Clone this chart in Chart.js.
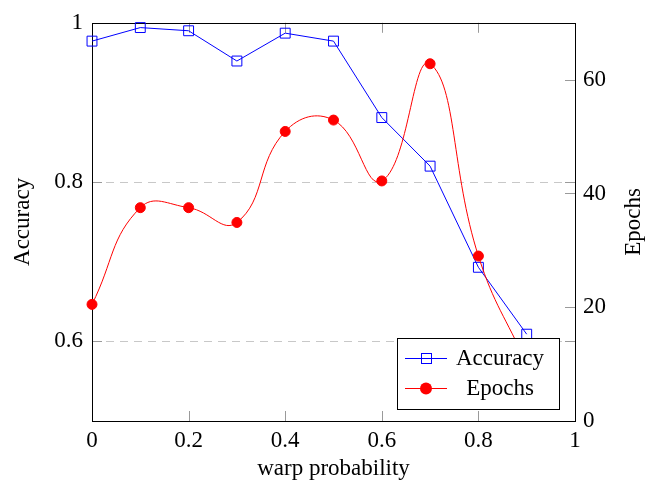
<!DOCTYPE html>
<html><head><meta charset="utf-8">
<script src="https://cdn.jsdelivr.net/npm/chart.js@4/dist/chart.umd.min.js"></script>
<style>html,body{margin:0;padding:0;background:#fff}#wrap{width:648px;height:484px}</style>
</head><body><div id="wrap"><canvas id="c" width="648" height="484"></canvas></div>
<script>
const warpProbability = [0, 0.1, 0.2, 0.3, 0.4, 0.5, 0.6, 0.7, 0.8, 0.9];
const accuracy = [0.977, 0.994, 0.990, 0.952, 0.987, 0.977, 0.881, 0.820, 0.693, 0.609];
const epochs = [20.5, 37.5, 37.5, 34.9, 50.9, 52.9, 42.2, 62.8, 29.0, 10.0];
const xTicks = [0, 0.2, 0.4, 0.6, 0.8, 1];
const accuracyTicks = [0.6, 0.8, 1];
const epochTicks = [0, 20, 40, 60];
const seriesNames = ['Accuracy', 'Epochs'];
const rightTitle = 'Epochs';

const FONT = 'Liberation Serif';
const fnt = {family: FONT, size: 23};

const framePlugin = {
  id: 'frame',
  beforeDatasetsDraw(chart) {
    const {ctx, chartArea: a, scales: {x, y, y1}} = chart;
    const L = 10;
    ctx.save();
    ctx.strokeStyle = '#9a9a9a';
    ctx.lineWidth = 1;
    ctx.beginPath();
    xTicks.forEach(v => {
      if (v <= 0 || v >= 1) return;
      const px = Math.round(x.getPixelForValue(v)) + 0.5;
      ctx.moveTo(px, a.bottom); ctx.lineTo(px, a.bottom - L);
      ctx.moveTo(px, a.top); ctx.lineTo(px, a.top + L);
    });
    accuracyTicks.forEach(v => {
      if (v >= 1) return;
      const py = Math.round(y.getPixelForValue(v)) + 0.5;
      ctx.moveTo(a.left, py); ctx.lineTo(a.left + L, py);
      ctx.moveTo(a.right, py); ctx.lineTo(a.right - L, py);
    });
    epochTicks.forEach(v => {
      if (v <= 0) return;
      const py = Math.round(y1.getPixelForValue(v)) + 0.5;
      ctx.moveTo(a.right, py); ctx.lineTo(a.right - L, py);
    });
    ctx.stroke();
    ctx.strokeStyle = '#000';
    ctx.strokeRect(Math.round(a.left) + 0.5, Math.round(a.top) + 0.5,
                   Math.round(a.right - a.left), Math.round(a.bottom - a.top));
    // right axis title, reading bottom-to-top
    ctx.translate(y1.right - 14, (a.top + a.bottom) / 2);
    ctx.rotate(-Math.PI / 2);
    ctx.fillStyle = '#000';
    ctx.font = '23px "' + FONT + '"';
    ctx.textAlign = 'center';
    ctx.textBaseline = 'middle';
    ctx.fillText(rightTitle, 0, 0);
    ctx.restore();
  },
  afterDraw(chart) {
    const {ctx, chartArea: a} = chart;
    const bx = a.right - 178, by = a.bottom - 83, bw = 162, bh = 71;
    ctx.save();
    ctx.fillStyle = '#fff';
    ctx.fillRect(bx, by, bw, bh);
    ctx.strokeStyle = '#000';
    ctx.lineWidth = 1;
    ctx.strokeRect(Math.round(bx) + 0.5, Math.round(by) + 0.5, bw, bh);
    const rows = [by + 20, by + 50];
    const colors = ['#0000ff', '#ff0000'];
    rows.forEach((ry, i) => {
      ctx.strokeStyle = colors[i];
      ctx.lineWidth = 1;
      ctx.beginPath();
      ctx.moveTo(bx + 8, ry + 0.5); ctx.lineTo(bx + 50, ry + 0.5);
      ctx.stroke();
      const mx = bx + 29;
      if (i === 0) {
        ctx.strokeRect(mx - 5 + 0.5, ry - 5 + 0.5, 10, 10);
      } else {
        ctx.fillStyle = colors[i];
        ctx.beginPath(); ctx.arc(mx, ry + 0.5, 6, 0, Math.PI * 2); ctx.fill();
      }
      ctx.fillStyle = '#000';
      ctx.font = '23px "' + FONT + '"';
      ctx.textAlign = 'center';
      ctx.textBaseline = 'middle';
      ctx.fillText(seriesNames[i], bx + 103, ry + 1);
    });
    ctx.restore();
  }
};

new Chart(document.getElementById('c'), {
  type: 'line',
  data: {
    datasets: [
      {
        label: seriesNames[1],
        data: warpProbability.map((w, i) => ({x: w, y: epochs[i]})),
        yAxisID: 'y1',
        borderColor: '#ff0000', backgroundColor: '#ff0000',
        borderWidth: 1, tension: 0.45,
        pointStyle: 'circle', pointRadius: 5, pointBorderWidth: 1,
        pointBackgroundColor: '#ff0000', pointBorderColor: '#ff0000',
        clip: false, order: 0
      },
      {
        label: seriesNames[0],
        data: warpProbability.map((w, i) => ({x: w, y: accuracy[i]})),
        yAxisID: 'y',
        borderColor: '#0000ff', backgroundColor: 'rgba(0,0,0,0)',
        borderWidth: 1, tension: 0,
        pointStyle: 'rect', pointRadius: 7, pointBorderWidth: 1,
        pointBackgroundColor: 'rgba(0,0,0,0)', pointBorderColor: '#0000ff',
        clip: false, order: 1
      }
    ]
  },
  options: {
    responsive: false,
    animation: false,
    layout: {padding: {top: 20, left: 0, right: 0, bottom: 0}},
    plugins: {legend: {display: false}, tooltip: {enabled: false}},
    scales: {
      x: {
        type: 'linear', min: 0, max: 1,
        afterBuildTicks: s => { s.ticks = xTicks.map(v => ({value: v})); },
        afterFit: s => { s.height = 63; },
        grid: {display: false, drawTicks: false},
        border: {display: false},
        ticks: {font: fnt, color: '#000', padding: 6, maxRotation: 0,
                callback: v => String(v)},
        title: {display: true, text: 'warp probability', font: fnt, color: '#000',
                padding: {top: 0, bottom: 1}}
      },
      y: {
        type: 'linear', position: 'left', min: 0.5, max: 1,
        afterBuildTicks: s => { s.ticks = accuracyTicks.map(v => ({value: v})); },
        afterFit: s => { s.width = 92; },
        grid: {
          drawTicks: false,
          color: c => (c.tick && c.tick.value < 0.99) ? '#c8c8c8' : 'rgba(0,0,0,0)',
          lineWidth: 1
        },
        border: {display: false, dash: [8, 6]},
        ticks: {font: fnt, color: '#000', padding: 9, callback: v => String(v)},
        title: {display: true, text: 'Accuracy', font: fnt, color: '#000',
                padding: {top: 9, bottom: 0}}
      },
      y1: {
        type: 'linear', position: 'right', min: 0, max: 70,
        afterBuildTicks: s => { s.ticks = epochTicks.map(v => ({value: v})); },
        afterFit: s => { s.width = 73; },
        grid: {display: false, drawTicks: false},
        border: {display: false},
        ticks: {font: fnt, color: '#000', padding: 8, callback: v => String(v)},
        title: {display: false}
      }
    }
  },
  plugins: [framePlugin]
});
</script>
</body></html>
